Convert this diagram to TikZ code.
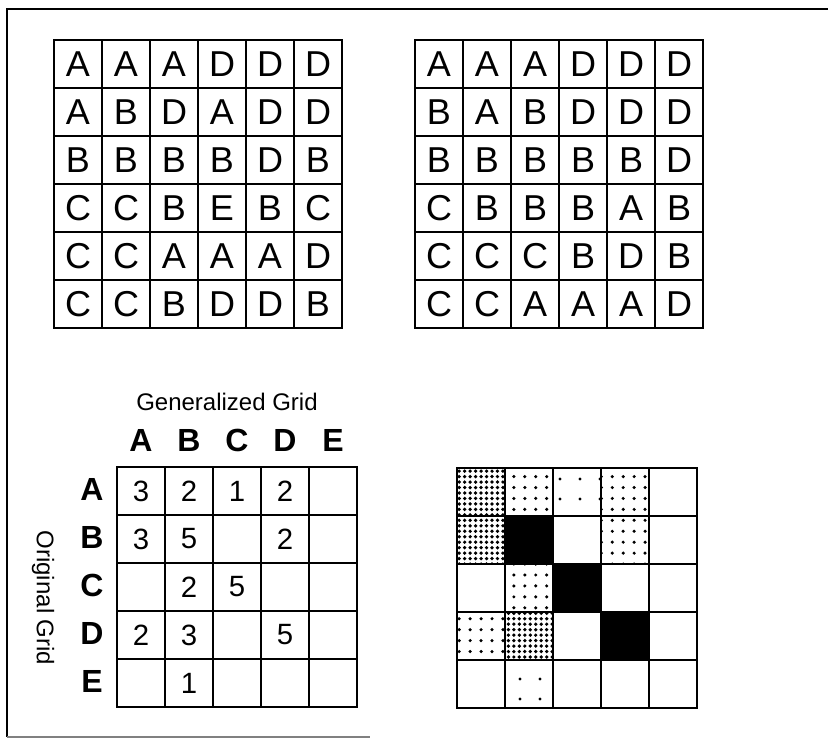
\documentclass[tikz,border=0pt]{standalone}
\usepackage{fontspec}
\setmainfont{Liberation Sans}
\usetikzlibrary{patterns.meta, positioning}

\tikzset{
  cell/.style={draw, line width=2pt, minimum size=36pt, inner sep=0pt,
               font=\fontsize{27}{27}\selectfont},
  numcell/.style={cell, font=\fontsize{22}{22}\selectfont},
  head/.style={font=\fontsize{24}{24}\selectfont\bfseries},
  title/.style={font=\fontsize{18}{18}\selectfont},
  dens0/.style={},
  dens1/.style={pattern={Dots[distance=15pt, radius=1.3pt]}},
  dens2/.style={pattern={Dots[distance=8.2pt, radius=1.3pt]}},
  dens3/.style={pattern={Dots[distance=4.1pt, radius=1.4pt]}},
  dens5/.style={fill=black},
}

\begin{document}
\begin{tikzpicture}[x=0.75pt, y=-0.75pt]
  \useasboundingbox (0,0) rectangle (828,739);
  % Frame
  \draw[line width=2.2pt] (828,9) -- (7,9) -- (7,737);
  \draw[line width=0.8pt, black!50] (7,737) -- (370,737);

  % Original grid
  \begin{scope}[shift={(54,40)}]
    \foreach \row [count=\r] in {{A,A,A,D,D,D}, {A,B,D,A,D,D}, {B,B,B,B,D,B},
                                 {C,C,B,E,B,C}, {C,C,A,A,A,D}, {C,C,B,D,D,B}} {
      \foreach \l [count=\c] in \row {
        \node[cell] (o\r\c) at ({48*\c-24},{48*\r-24}) {\l};
      }
    }
  \end{scope}

  % Generalized grid
  \begin{scope}[shift={(415,40)}]
    \foreach \row [count=\r] in {{A,A,A,D,D,D}, {B,A,B,D,D,D}, {B,B,B,B,B,D},
                                 {C,B,B,B,A,B}, {C,C,C,B,D,B}, {C,C,A,A,A,D}} {
      \foreach \l [count=\c] in \row {
        \node[cell] (n\r\c) at ({48*\c-24},{48*\r-24}) {\l};
      }
    }
  \end{scope}

  % Overlap counts
  \begin{scope}[shift={(117,467)}]
    \foreach \h [count=\c] in {A,B,C,D,E} {
      \node[head] (col\h) at ({48*\c-24},-27) {\h};
      \node[head] (row\h) at (-25,{48*\c-26}) {\h};
    }
    \foreach \row [count=\r] in {{3,2,1,2,0}, {3,5,0,2,0}, {0,2,5,0,0},
                                 {2,3,0,5,0}, {0,1,0,0,0}} {
      \foreach \v [count=\c] in \row {
        \node[numcell] (m\r\c) at ({48*\c-24},{48*\r-24}) {\ifnum\v>0 \v\fi};
      }
    }
  \end{scope}
  \node[title] (gentitle) at (227,402) {Generalized Grid};
  \node[title, rotate=-90] (origtitle) at (43,598) {Original Grid};

  % Shaded counts
  \begin{scope}[shift={(457,468)}]
    \foreach \row [count=\r] in {{3,2,1,2,0}, {3,5,0,2,0}, {0,2,5,0,0},
                                 {2,3,0,5,0}, {0,1,0,0,0}} {
      \foreach \v [count=\c] in \row {
        \node[cell, dens\v] (s\r\c) at ({48*\c-24},{48*\r-24}) {};
      }
    }
  \end{scope}
\end{tikzpicture}
\end{document}
